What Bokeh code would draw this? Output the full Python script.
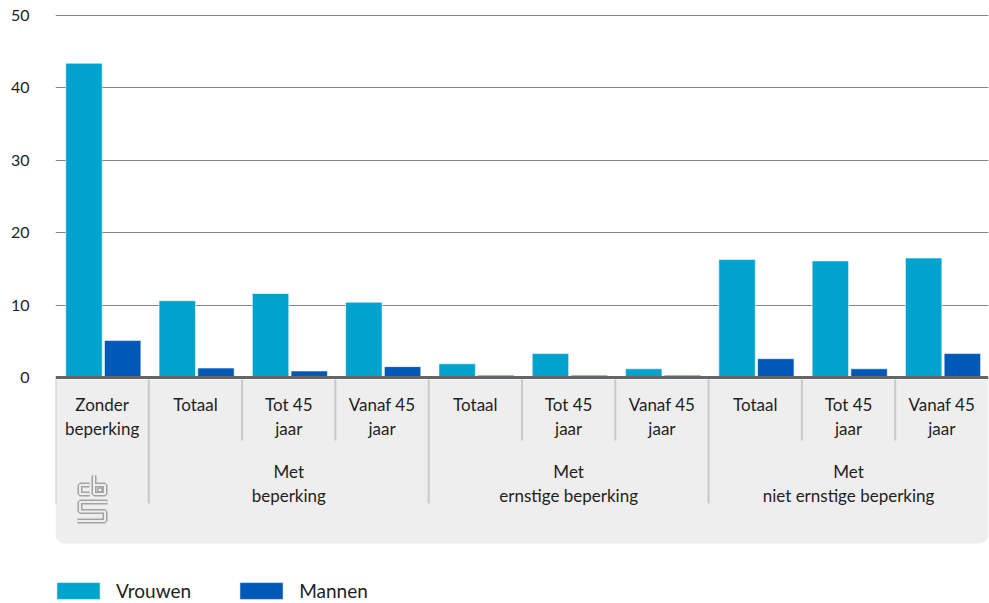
import numpy as np
from bokeh.plotting import figure
from bokeh.models import (ColumnDataSource, Range1d, FixedTicker, Span, Legend,
                          LegendItem)
from bokeh.core.properties import value
from bokeh.embed import file_html
from bokeh.resources import INLINE

# ---------------- data ----------------
sub_labels = ["Zonder\nbeperking", "Totaal", "Tot 45\njaar", "Vanaf 45\njaar",
              "Totaal", "Tot 45\njaar", "Vanaf 45\njaar",
              "Totaal", "Tot 45\njaar", "Vanaf 45\njaar"]
group_labels = ["Met\nbeperking", "Met\nernstige beperking", "Met\nniet ernstige beperking"]
group_sizes = [1, 3, 3, 3]          # first slot is 'Zonder beperking' on its own
vrouwen = [43.4, 10.6, 11.6, 10.4, 1.9, 3.3, 1.2, 16.3, 16.1, 16.5]
mannen = [5.1, 1.3, 0.9, 1.5, 0.3, 0.3, 0.3, 2.6, 1.2, 3.3]
y_ticks = [0, 10, 20, 30, 40, 50]
series_names = ["Vrouwen", "Mannen"]

# ---------------- styling ----------------
FONT = "Lato"
C_V = "#00a2ce"
C_M = "#0058b8"
TXT = "#1e1e1e"
PANEL = "#eeeeee"
SEP = "#c9c9c9"

W, H = 989, 603
LEFT = 55
RIGHT = 1
PX_PER_UNIT = 7.24
ZERO_FROM_TOP = 377
y_top = ZERO_FROM_TOP / PX_PER_UNIT
y_bot = -(H - ZERO_FROM_TOP) / PX_PER_UNIT

n = len(sub_labels)
p = figure(width=W, height=H, output_backend="svg", toolbar_location=None,
           x_range=Range1d(0, n), y_range=Range1d(y_bot, y_top),
           x_axis_location=None, min_border_left=LEFT, min_border_right=RIGHT,
           min_border_top=0, min_border_bottom=0)
p.outline_line_color = None
p.background_fill_color = "white"
p.border_fill_color = "white"

# y axis
ax = p.yaxis[0]
ax.ticker = FixedTicker(ticks=y_ticks)
ax.axis_line_color = None
ax.major_tick_line_color = None
ax.minor_tick_line_color = None
ax.major_tick_in = 0
ax.major_tick_out = 0
ax.major_label_standoff = 26
ax.major_label_text_font = FONT
ax.major_label_text_font_size = "16px"
ax.major_label_text_color = TXT
p.ygrid.ticker = FixedTicker(ticks=y_ticks[1:])
p.ygrid.grid_line_color = "#858585"
p.ygrid.grid_line_width = 1
p.xgrid.visible = False

# grey category panel
def py(px_from_zero):
    return -px_from_zero / PX_PER_UNIT

p.quad(left=[0], right=[n], top=[py(2)], bottom=[py(166)],
       fill_color=PANEL, line_color=None, border_radius=(0, 0, 9, 9))

# separators
bounds = np.cumsum([0] + group_sizes)[:-1]
long_x = list(bounds)
short_x = [i for i in range(1, n) if i not in long_x]
p.segment(x0=long_x, x1=long_x, y0=py(2), y1=py(126), line_color=SEP, line_width=2)
p.segment(x0=short_x, x1=short_x, y0=py(2), y1=py(63), line_color=SEP, line_width=2)

# bars
idx = np.arange(n)
src = ColumnDataSource(dict(xv=idx + 0.305, xm=idx + 0.72, v=vrouwen, m=mannen))
rv = p.vbar(x="xv", top="v", bottom=0, width=0.39, source=src,
            fill_color=C_V, line_color="white", line_alpha=0.55, line_width=1)
rm = p.vbar(x="xm", top="m", bottom=0, width=0.39, source=src,
            fill_color=C_M, line_color="white", line_alpha=0.55, line_width=1)

# baseline
p.add_layout(Span(location=0, dimension="width", line_color="#666666", line_width=3))

# category labels
LH = 1.17
p.text(x=idx + 0.5, y=[py(16)] * n, text=sub_labels, text_align="center",
       text_baseline="top", text_font=value(FONT), text_font_size="17px",
       text_color=TXT, text_line_height=LH)
gstarts = bounds[1:]
gcenters = [s + g / 2 for s, g in zip(gstarts, group_sizes[1:])]
p.text(x=gcenters, y=[py(83)] * len(gcenters), text=group_labels, text_align="center",
       text_baseline="top", text_font=value(FONT), text_font_size="17px",
       text_color=TXT, text_line_height=LH)

# CBS logo (decoration), local pixel paths (double-line strokes)
slot_px = (W - LEFT - RIGHT) / n
ox, oy = 21.0, 98.0   # offset from left of panel / below zero line, px
paths = [
    [(13, 9.5), (3.5, 9.5), (3.5, 18.5), (13, 18.5)],
    [(17.5, 0), (17.5, 18.5), (28.5, 18.5), (28.5, 9.5), (17.5, 9.5)],
    [(31, 26.5), (3.5, 26.5), (3.5, 36), (28.5, 36), (28.5, 45.5), (1, 45.5)],
]
lx = [[(ox + a) / slot_px for a, b in pth] for pth in paths]
ly = [[py(oy + b) for a, b in pth] for pth in paths]
p.multi_line(xs=lx, ys=ly, line_color="#a3a3a3", line_width=5)
p.multi_line(xs=lx, ys=ly, line_color=PANEL, line_width=2)
sq = [(21.5, 12.5), (25.5, 12.5), (25.5, 16.5), (21.5, 16.5), (21.5, 12.5)]
p.line(x=[(ox + a) / slot_px for a, b in sq], y=[py(oy + b) for a, b in sq],
       line_color="#a3a3a3", line_width=1.5)

# legend (bar legend glyphs are inset by 10% on each side)
legend = Legend(items=[LegendItem(label=series_names[0], renderers=[rv]),
                       LegendItem(label=series_names[1], renderers=[rm])],
                orientation="horizontal", location=(-4, 1),
                glyph_width=54, glyph_height=21, label_standoff=11, spacing=43,
                padding=0, margin=0, border_line_alpha=0, background_fill_alpha=0,
                label_text_font=FONT, label_text_font_size="19px",
                label_text_color=TXT, label_height=21)
p.add_layout(legend)

open("out.html", "w").write(file_html(p, INLINE))
